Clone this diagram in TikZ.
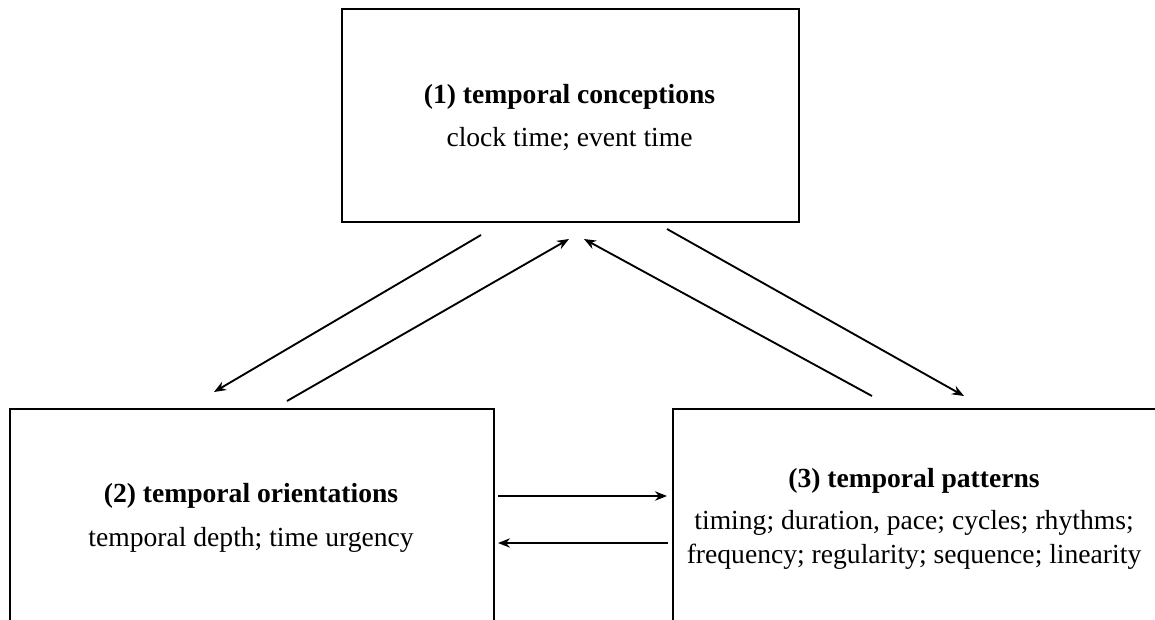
\documentclass[tikz,border=0pt]{standalone}
\usepackage{fontspec}
\setmainfont{Liberation Serif}
\usetikzlibrary{arrows.meta}
\begin{document}
\begin{tikzpicture}[x=0.75pt,y=-0.75pt,
  box/.style={draw, line width=1.7pt, rectangle, inner sep=0pt, anchor=north west},
  ttl/.style={anchor=base, inner sep=0pt, font=\fontsize{20.7pt}{25pt}\selectfont\bfseries},
  txt/.style={anchor=base, inner sep=0pt, font=\fontsize{20.7pt}{25pt}\selectfont},
  link/.style={line width=1.4pt, -{Stealth[length=9pt,width=7pt]}}]
\useasboundingbox (0,0) rectangle (1155,619);
\clip (0,0) rectangle (1155,619);

% the three boxes (the lower two run past the frame)
\node[box, minimum width=342.75pt, minimum height=159.75pt] (conc) at (341,8) {};
\node[box, minimum width=363pt, minimum height=225pt] (orient) at (9,408) {};
\node[box, minimum width=433.5pt, minimum height=225pt] (patt) at (672,408) {};

% box texts
\node[ttl] (conct) at (569.5,103) {(1) temporal conceptions};
\node[txt] (concs) at (569.5,146) {clock time; event time};
\node[ttl] (oriet) at (251,502.5) {(2) temporal orientations};
\node[txt] (ories) at (251,546.5) {temporal depth; time urgency};
\node[ttl] (pattt) at (914,487) {(3) temporal patterns};
\node[txt] (patta) at (914,529) {timing; duration, pace; cycles; rhythms;};
\node[txt] (pattb) at (914,563) {frequency; regularity; sequence; linearity};

% connector end points
\coordinate (a1) at (481,235); \coordinate (a2) at (214,392);
\coordinate (b1) at (287,401); \coordinate (b2) at (569,239);
\coordinate (c1) at (872,396); \coordinate (c2) at (584,239);
\coordinate (d1) at (667,229); \coordinate (d2) at (964,396);
\coordinate (e1) at (498,496); \coordinate (e2) at (667,496);
\coordinate (f1) at (668,543); \coordinate (f2) at (498,543);

\draw[link] (a1) -- (a2);
\draw[link] (b1) -- (b2);
\draw[link] (c1) -- (c2);
\draw[link] (d1) -- (d2);
\draw[link] (e1) -- (e2);
\draw[link] (f1) -- (f2);
\end{tikzpicture}
\end{document}
